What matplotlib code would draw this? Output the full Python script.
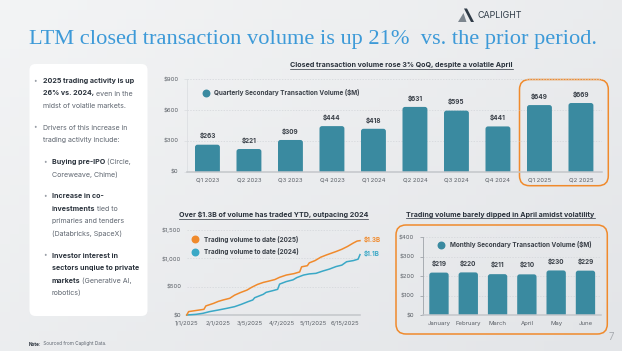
import numpy as np
import matplotlib
matplotlib.use("Agg")
import matplotlib.pyplot as plt
from matplotlib.patches import FancyBboxPatch, Polygon

# ---- data -------------------------------------------------------------
quarters = ["Q1 2023", "Q2 2023", "Q3 2023", "Q4 2023", "Q1 2024",
            "Q2 2024", "Q3 2024", "Q4 2024", "Q1 2025", "Q2 2025"]
quarter_vol = [263, 221, 309, 444, 418, 631, 595, 441, 649, 669]

months = ["January", "February", "March", "April", "May", "June"]
month_vol = [219, 220, 211, 210, 230, 229]

# cumulative YTD volume ($M) (x = day index)
days_2025 = [0, 2, 12, 18, 20, 28, 33, 38, 45, 50, 56, 63, 68, 74, 80, 85,
             92, 97, 104, 112, 118, 120, 126, 128, 134, 140, 146, 151, 156,
             162, 168, 174, 178, 181]
cum_2025 = [0, 60, 85, 100, 160, 205, 240, 265, 295, 350, 395, 440, 490, 540,
            575, 595, 625, 665, 705, 730, 760, 850, 870, 920, 960, 1020, 1060,
            1090, 1120, 1160, 1210, 1270, 1305, 1312]
days_2024 = [0, 10, 17, 24, 33, 42, 50, 57, 64, 69, 71, 80, 83, 90, 95, 97,
             104, 111, 115, 122, 128, 135, 142, 149, 156, 162, 167, 174, 179,
             181]
cum_2024 = [0, 12, 30, 60, 88, 118, 147, 188, 235, 265, 305, 365, 400, 430,
            453, 545, 590, 620, 660, 705, 725, 735, 775, 810, 855, 880, 940,
            960, 985, 1065]
date_tick_pos = [0, 33, 66, 99, 132, 165]
date_tick_labels = ["1/1/2025", "2/1/2025", "3/5/2025", "4/7/2025",
                    "5/11/2025", "6/15/2025"]

bullets = [
    (0, [[("2025 trading activity is up", True)],
         [("26% vs. 2024,", True), (" even in the", False)],
         [("midst of volatile markets.", False)]]),
    (0, [[("Drivers of this increase in", False)],
         [("trading activity include:", False)]]),
    (1, [[("Buying pre-IPO", True), (" (Circle,", False)],
         [("Coreweave, Chime)", False)]]),
    (1, [[("Increase in co-", True)],
         [("investments", True), (" tied to", False)],
         [("primaries and tenders", False)],
         [("(Databricks, SpaceX)", False)]]),
    (1, [[("Investor interest in", True)],
         [("sectors unqiue to private", True)],
         [("markets", True), (" (Generative AI,", False)],
         [("robotics)", False)]]),
]

# ---- style ------------------------------------------------------------
W, H = 622, 351
TEAL = "#3a8aa0"
ORANGE = "#f08a2c"
CYAN = "#3aa8c6"
DARK = "#2a323c"
GRAY = "#5f6670"
TICK = "#5a5f66"
plt.rcParams["font.family"] = ["Inter", "DejaVu Sans"]

fig = plt.figure(figsize=(W / 100, H / 100), dpi=100)
renderer = fig.canvas.get_renderer()

# full-figure pixel canvas for the slide decorations
bg = fig.add_axes([0, 0, 1, 1], zorder=0)
bg.set_xlim(0, W)
bg.set_ylim(H, 0)
bg.axis("off")
gx, gy = np.meshgrid(np.linspace(0, 1, 64), np.linspace(0, 1, 36))
bg.imshow(0.55 * gx + 0.45 * gy, cmap=matplotlib.colors.LinearSegmentedColormap.from_list(
    "slide", ["#f3f4f5", "#e3e5e8"]), extent=(0, W, H, 0), aspect="auto", zorder=0)


def box(x0, y0, x1, y1, r, **kw):
    bg.add_patch(FancyBboxPatch((x0, y0), x1 - x0, y1 - y0,
                                boxstyle=f"round,pad=0,rounding_size={r}", **kw))


def run_text(x, y, parts, size, zorder=2):
    # consecutive text pieces on one baseline, bold pieces darker
    for s, bold in parts:
        t = bg.text(x, y, s, fontsize=size, zorder=zorder, va="baseline",
                    fontweight="bold" if bold else "normal",
                    color=DARK if bold else GRAY)
        x = t.get_window_extent(renderer).x1


def underlined(x, y, s, size):
    t = bg.text(x, y, s, fontsize=size, fontweight="bold", color=DARK,
                ha="center", va="baseline")
    bb = t.get_window_extent(renderer)
    bg.plot([bb.x0, bb.x1], [y + 1.6, y + 1.6], color=DARK, lw=0.5)


# title and logo
bg.text(29, 44, "LTM closed transaction volume is up 21%  vs. the prior period.",
        fontsize=16.1, family="Liberation Serif", color="#3d9ad8", va="baseline")
bg.add_patch(Polygon([[464, 8.5], [467, 8.5], [474, 22], [471, 22]],
                     closed=True, color="#2f3b47", lw=0))
bg.add_patch(Polygon([[463.5, 13], [466.5, 22], [458, 22]],
                     closed=True, color="#7d868f", lw=0))
bg.text(477, 15.5, "CAPLIGHT", fontsize=6.4, color="#2f3b47", va="center")

# left panel with bullets
box(29.5, 64, 147.5, 316, 6, facecolor="white", edgecolor="none", zorder=1)
y = 80.7
for level, lines in bullets:
    bx = 35 if level == 0 else 44.5
    tx = 42.7 if level == 0 else 51.7
    bg.text(bx, y, "•", fontsize=4.5, color="#9aa0a8", va="center", ha="center", zorder=2)
    for parts in lines:
        run_text(tx, y + 2.3, parts, 5.1)
        y += 12.5
    y += 9.3

run_text(29, 345.5, [("Note:", True), (" Sourced from Caplight Data.", False)], 3.4)
bg.text(611.5, 337, "7", fontsize=7, color="#a9adb2", va="center", ha="center")

# orange highlight frames
box(519.5, 79.5, 608.3, 185.7, 10, facecolor="none", edgecolor=ORANGE, lw=1.1, zorder=3)
box(396, 225, 607.3, 334, 10, facecolor="none", edgecolor=ORANGE, lw=1.1, zorder=3)

underlined(401.7, 67.5, "Closed transaction volume rose 3% QoQ, despite a volatile April", 5.1)
underlined(273.3, 217, "Over $1.3B of volume has traded YTD, outpacing 2024", 5.1)
underlined(500.5, 216.7, "Trading volume barely dipped in April amidst volatility", 5.1)


def axes_px(x0, y0, x1, y1):
    ax = fig.add_axes([x0 / W, 1 - y1 / H, (x1 - x0) / W, (y1 - y0) / H], zorder=2)
    ax.patch.set_alpha(0)
    for s in ("top", "right"):
        ax.spines[s].set_visible(False)
    ax.spines["bottom"].set_color("#c3c6ca")
    ax.spines["bottom"].set_linewidth(1.1)
    ax.tick_params(labelsize=4.3, colors=TICK, length=0, pad=4)
    ax.yaxis.grid(True, ls=(0, (2, 2)), color="#d2d5d9", lw=0.5)
    ax.set_axisbelow(True)
    return ax


def rounded_bars(ax, values, width, radius_px=2.5):
    p0 = ax.transData.transform((0, 0))
    p1 = ax.transData.transform((1, 1))
    sx, sy = p1[0] - p0[0], p1[1] - p0[1]
    rx, ry = radius_px / sx, radius_px / sy
    for i, v in enumerate(values):
        ax.add_patch(FancyBboxPatch((i - width / 2, -ry), width, v + ry,
                                    boxstyle=f"round,pad=0,rounding_size={rx}",
                                    mutation_aspect=sx / sy, facecolor=TEAL,
                                    edgecolor="none", zorder=2))


def legend_dot(xpx, ypx, color, label):
    bg.scatter([xpx], [ypx], s=22, color=color, zorder=4)
    bg.text(xpx + 8.5, ypx, label, fontsize=4.6, fontweight="bold",
            color="#3a4048", va="center", zorder=4)


# top: quarterly bars
ax1 = axes_px(186.7, 79.3, 601.7, 171.7)
ax1.set_xlim(-0.5, len(quarters) - 0.5)
ax1.set_ylim(0, 900)
ax1.set_yticks([0, 300, 600, 900])
ax1.set_yticklabels([f"${v}" for v in [0, 300, 600, 900]])
ax1.set_xticks(range(len(quarters)))
ax1.set_xticklabels(quarters)
ax1.spines["left"].set_color("#d9dcdf")
ax1.spines["left"].set_linewidth(0.5)
ax1.tick_params(axis="y", length=2, color="#d9dcdf", width=0.5)
rounded_bars(ax1, quarter_vol, 0.6)
for i, v in enumerate(quarter_vol):
    ax1.text(i, v + 85, f"${v}", ha="center", va="center", fontsize=4.6,
             fontweight="bold", color="#3a4048")
legend_dot(205.7, 92.7, TEAL, "Quarterly Secondary Transaction Volume ($M)")

# bottom left: cumulative lines
ax2 = axes_px(186.7, 230, 360, 315)
ax2.set_xlim(0, 181)
ax2.set_ylim(0, 1500)
ax2.spines["left"].set_visible(False)
ax2.set_yticks([0, 500, 1000, 1500])
ax2.set_yticklabels(["$0", "$500", "$1,000", "$1,500"])
ax2.set_xticks(date_tick_pos)
ax2.set_xticklabels(date_tick_labels)
ax2.plot(days_2024, cum_2024, color=CYAN, lw=1.1, zorder=3, clip_on=False)
ax2.plot(days_2025, cum_2025, color=ORANGE, lw=1.1, zorder=3, clip_on=False)
ax2.text(days_2025[-1] + 4, cum_2025[-1] + 20, "$1.3B", color=ORANGE, fontsize=4.5,
         fontweight="bold", va="center")
ax2.text(days_2024[-1] + 4, cum_2024[-1] + 20, "$1.1B", color=CYAN, fontsize=4.5,
         fontweight="bold", va="center")
legend_dot(195, 239.3, ORANGE, "Trading volume to date (2025)")
legend_dot(195, 251.7, CYAN, "Trading volume to date (2024)")

# bottom right: monthly bars
ax3 = axes_px(423.3, 237.3, 600.7, 315.3)
ax3.set_xlim(-0.535, len(months) - 0.48)
ax3.set_ylim(0, 400)
ax3.set_yticks([0, 100, 200, 300, 400])
ax3.set_yticklabels([f"${v}" for v in [0, 100, 200, 300, 400]])
ax3.set_xticks(range(len(months)))
ax3.set_xticklabels(months)
ax3.spines["left"].set_color("#9ea3a9")
ax3.spines["left"].set_linewidth(0.6)
ax3.tick_params(axis="y", length=2.5, color="#9ea3a9", width=0.6)
rounded_bars(ax3, month_vol, 0.66)
for i, v in enumerate(month_vol):
    ax3.text(i, v + 48, f"${v}", ha="center", va="center", fontsize=4.6,
             fontweight="bold", color="#3a4048")
legend_dot(441, 245, TEAL, "Monthly Secondary Transaction Volume ($M)")

fig.savefig("out.png", dpi=100)
